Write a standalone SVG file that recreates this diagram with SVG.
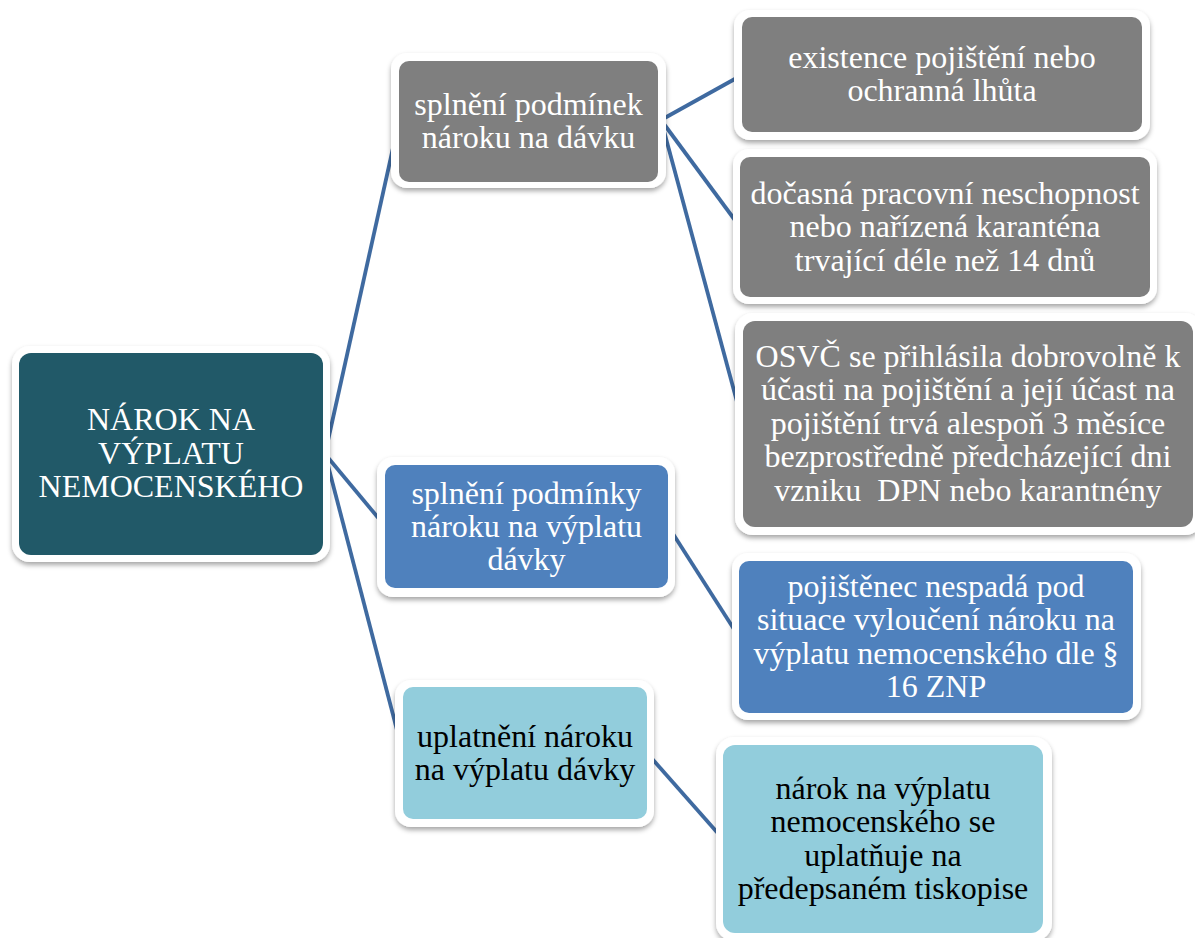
<svg xmlns="http://www.w3.org/2000/svg" width="1195" height="938" viewBox="0 0 1195 938">
<defs>
<filter id="sh" x="-10%" y="-10%" width="120%" height="130%">
<feDropShadow dx="0" dy="3" stdDeviation="2.5" flood-color="#000" flood-opacity="0.35"/>
</filter>
<style>
.frame{fill:#fff;filter:url(#sh)}
.teal{fill:#215968}
.gray{fill:#7f7f7f}
.blue{fill:#4f81bd}
.light{fill:#92cddc}
.t{font-size:32px;text-anchor:middle}
.w{fill:#fff}
.k{fill:#000}
.conn{stroke:#3f6aa0;stroke-width:3.8;fill:none;stroke-linejoin:round}
</style>
</defs>
<rect width="1195" height="938" fill="#fff"/>
<g id="connectors" class="conn">
<line x1="325" y1="454" x2="399" y2="121"/>
<line x1="325" y1="454" x2="385" y2="526"/>
<line x1="325" y1="454" x2="403" y2="753"/>
<line x1="661" y1="120" x2="742" y2="75"/>
<line x1="661" y1="120" x2="740" y2="227"/>
<line x1="661" y1="120" x2="743" y2="424"/>
<line x1="668" y1="526" x2="739" y2="637"/>
<line x1="647" y1="753" x2="723" y2="839"/>
</g>
<g font-family="'Liberation Serif', 'Times New Roman', serif">
<g id="root">
<rect class="frame" x="12" y="346" width="318" height="216" rx="18"/>
<rect class="teal" x="19" y="353" width="304" height="202" rx="12"/>
<text class="t w" x="171" y="430">NÁROK NA</text>
<text class="t w" x="171" y="464">VÝPLATU</text>
<text class="t w" x="171" y="497">NEMOCENSKÉHO</text>
</g>
<g id="n1">
<rect class="frame" x="391" y="53" width="275" height="135" rx="16"/>
<rect class="gray" x="399" y="61" width="259" height="121" rx="10"/>
<text class="t w" x="528.5" y="115">splnění podmínek</text>
<text class="t w" x="528.5" y="148">nároku na dávku</text>
</g>
<g id="n2">
<rect class="frame" x="734" y="10" width="416" height="130" rx="16"/>
<rect class="gray" x="742" y="17" width="400" height="115" rx="10"/>
<text class="t w" x="942" y="68">existence pojištění nebo</text>
<text class="t w" x="942" y="101">ochranná lhůta</text>
</g>
<g id="n3">
<rect class="frame" x="733" y="149" width="424" height="155" rx="16"/>
<rect class="gray" x="740" y="157" width="410" height="140" rx="10"/>
<text class="t w" x="945" y="203.5">dočasná pracovní neschopnost</text>
<text class="t w" x="945" y="237">nebo nařízená karanténa</text>
<text class="t w" x="945" y="270.5">trvající déle než 14 dnů</text>
</g>
<g id="n4">
<rect class="frame" x="735" y="313" width="468" height="222" rx="18"/>
<rect class="gray" x="743" y="321" width="450" height="206" rx="12"/>
<text class="t w" x="968" y="367">OSVČ se přihlásila dobrovolně k</text>
<text class="t w" x="968" y="400">účasti na pojištění a její účast na</text>
<text class="t w" x="968" y="434">pojištění trvá alespoň 3 měsíce</text>
<text class="t w" x="968" y="467">bezprostředně předcházející dni</text>
<text class="t w" x="968" y="501" xml:space="preserve">vzniku  DPN nebo karantnény</text>
</g>
<g id="n5">
<rect class="frame" x="377" y="457" width="298" height="140" rx="16"/>
<rect class="blue" x="385" y="465" width="283" height="123" rx="10"/>
<text class="t w" x="526.5" y="504">splnění podmínky</text>
<text class="t w" x="526.5" y="537">nároku na výplatu</text>
<text class="t w" x="526.5" y="570">dávky</text>
</g>
<g id="n6">
<rect class="frame" x="732" y="553" width="409" height="167" rx="16"/>
<rect class="blue" x="739" y="561" width="394" height="152" rx="10"/>
<text class="t w" x="936" y="597">pojištěnec nespadá pod</text>
<text class="t w" x="936" y="630">situace vyloučení nároku na</text>
<text class="t w" x="936" y="664">výplatu nemocenského dle §</text>
<text class="t w" x="936" y="697">16 ZNP</text>
</g>
<g id="n7">
<rect class="frame" x="395" y="680" width="259" height="147" rx="16"/>
<rect class="light" x="403" y="687" width="244" height="132" rx="10"/>
<text class="t k" x="525" y="747">uplatnění nároku</text>
<text class="t k" x="525" y="780">na výplatu dávky</text>
</g>
<g id="n8">
<rect class="frame" x="716" y="737" width="336" height="204" rx="18"/>
<rect class="light" x="723" y="745" width="320" height="188" rx="12"/>
<text class="t k" x="883" y="799">nárok na výplatu</text>
<text class="t k" x="883" y="832">nemocenského se</text>
<text class="t k" x="883" y="866">uplatňuje na</text>
<text class="t k" x="883" y="899">předepsaném tiskopise</text>
</g>
</g>
</svg>
